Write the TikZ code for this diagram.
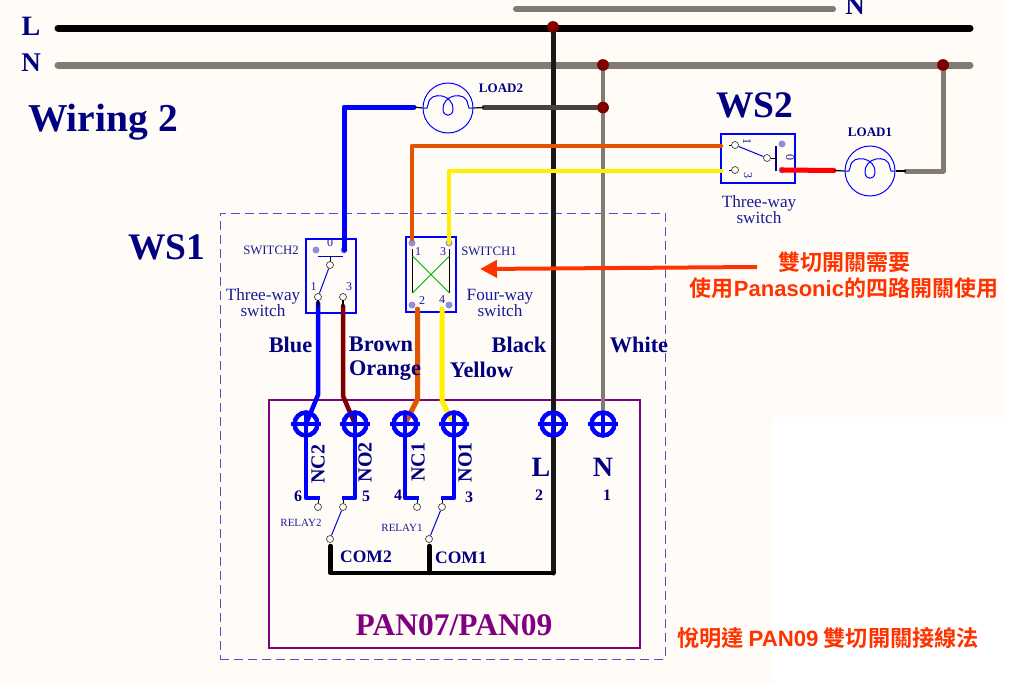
\documentclass[tikz,border=0pt]{standalone}
\usepackage{fontspec}
\setmainfont{Liberation Serif}
\newfontfamily\cjkbold{Noto Sans CJK TC Bold}
\newfontfamily\arialb{Liberation Sans Bold}
\usetikzlibrary{arrows.meta,calc}
\definecolor{cream}{HTML}{FFFCF8}
\definecolor{navy}{HTML}{000080}
\definecolor{labelblue}{HTML}{1A1A96}
\definecolor{elecblue}{HTML}{0000FF}
\definecolor{busgray}{HTML}{837A74}
\definecolor{darkgray}{HTML}{4A4040}
\definecolor{juncred}{HTML}{7F0000}
\definecolor{orangew}{HTML}{E25500}
\definecolor{yellw}{HTML}{FFF000}
\definecolor{brownw}{HTML}{7F0000}
\definecolor{dotblue}{HTML}{8E8EE0}
\definecolor{redtext}{HTML}{FF3300}
\definecolor{purp}{HTML}{800080}
\definecolor{dashblue}{HTML}{5050D0}
\tikzset{
 x=1pt,y=-1pt,
 txt/.style={inner sep=0pt,outer sep=0pt,text=navy,font=\fontsize{#1}{#1}\selectfont\bfseries},
 thin label/.style={inner sep=0pt,outer sep=0pt,text=labelblue,align=center,font=\fontsize{#1}{#1}\selectfont},
 wire/.style={line width=#1,line cap=round,line join=round},
 box/.style={draw=elecblue,line width=1.4pt,inner sep=0pt,outer sep=0pt,fill=none},
 junc/.style={circle,fill=juncred,draw=none,minimum size=11.5pt,inner sep=0pt},
 cdot/.style={circle,fill=dotblue,draw=none,minimum size=7pt,inner sep=0pt},
 ring/.style={circle,fill=cream,draw=black!75,line width=.7pt,minimum size=7pt,inner sep=0pt},
 term/.style={circle,draw=elecblue,line width=4.2pt,minimum size=23pt,inner sep=0pt},
 arm/.style={draw=elecblue!85!black,line width=1pt},
 lead/.style={draw=black,line width=1.2pt},
 lampc/.style={circle,draw=elecblue,line width=1pt,minimum size=50pt,inner sep=0pt},
 fil/.style={draw=elecblue,line width=1pt},
 redtxt/.style={inner sep=0pt,text=redtext,font=\fontsize{#1}{#1}\selectfont\cjkbold}
}
\newcommand{\filament}[1]{%
 \draw[fil] ($(#1)+(-25,0)$) -- ($(#1)+(-21,0)$) -- ($(#1)+(-20,-3)$) .. controls ($(#1)+(-19,-12)$) and ($(#1)+(-12,-13)$) .. ($(#1)+(-6,-12)$)
   .. controls ($(#1)+(0,-11)$) and ($(#1)+(6,-5)$) .. ($(#1)+(5,2)$) .. controls ($(#1)+(4,9)$) and ($(#1)+(-4,9)$) .. ($(#1)+(-5,2)$)
   .. controls ($(#1)+(-6,-5)$) and ($(#1)+(0,-11)$) .. ($(#1)+(6,-12)$) .. controls ($(#1)+(12,-13)$) and ($(#1)+(19,-12)$) .. ($(#1)+(20,-3)$) -- ($(#1)+(21,0)$) -- ($(#1)+(25,0)$);}
\newcommand{\termcross}[1]{%
 \draw[elecblue,line width=3.2pt] ($(#1)+(-15,0)$) -- ($(#1)+(15,0)$);
 \draw[elecblue,line width=3.2pt] ($(#1)+(0,-13)$) -- ($(#1)+(0,13)$);}
\begin{document}
\begin{tikzpicture}
\useasboundingbox (0,0) rectangle (1024,688);
\fill[white] (0,0) rectangle (1024,688);
\fill[cream] (0,0) -- (1005,0) -- (1005,416) -- (773,416) -- (773,683) -- (0,683) -- cycle;

\coordinate (LL) at (58,28); \coordinate (LR) at (970,28);
\coordinate (NL) at (58,65); \coordinate (NR) at (970,65);
\coordinate (TL) at (516,9); \coordinate (TR) at (833,9);

\node[draw=dashblue,dash pattern=on 9pt off 5pt,line width=.8pt,minimum width=445pt,minimum height=446pt,inner sep=0pt] (ws1frame) at (442.5,436) {};
\node[draw=purp,line width=1.3pt,minimum width=371pt,minimum height=248pt,inner sep=0pt] (relaybox) at (454.5,524) {};

\draw[wire=6pt,busgray] (TL) -- (TR);
\draw[wire=7pt,busgray] (NL) -- (NR);
\draw[wire=7pt,black] (LL) -- (LR);

\node[junc] (jL) at (553,27) {};
\node[junc] (jN1) at (603,65) {};
\node[junc] (jN2) at (603,107.5) {};
\node[junc] (jN3) at (943,65) {};
\node[term] (tNC2) at (306,424) {};
\node[term] (tNO2) at (355,424) {};
\node[term] (tNC1) at (405,424) {};
\node[term] (tNO1) at (454,424) {};
\node[term] (tL) at (553,424) {};
\node[term] (tN) at (603,424) {};

\node[lampc] (load2) at (448,108) {};
\node[lampc] (load1) at (870,171) {};

\node[box,minimum width=50pt,minimum height=74pt] (sw2) at (331,276) {};
\node[box,minimum width=50pt,minimum height=75pt] (sw1) at (431,274.5) {};
\node[box,minimum width=74pt,minimum height=49pt] (ws2) at (758,158.5) {};
\node[cdot] (s2a) at (316,250) {};
\node[cdot] (s2b) at (344,250) {};
\node[cdot] (s1a) at (412,243) {};
\node[cdot] (s1b) at (449,243) {};
\node[cdot] (s1c) at (412,305) {};
\node[cdot] (s1d) at (449,305) {};
\node[cdot] (w2a) at (782,144) {};
\node[cdot] (w2b) at (782,170) {};

\draw[wire=5pt,black!90] (jL.center) -- (553,573) coordinate (gnd);
\draw[wire=4.5pt,busgray] (jN1.center) -- (tN.center);
\draw[wire=5pt,darkgray] (484,107.5) coordinate (d2) -- (jN2.center);
\draw[wire=5pt,busgray] (906,171) coordinate (g1) -- (943,171) -- (jN3.center);
\draw[wire=5pt,elecblue] (s2b.center) -- (344,107) -- (414,107) coordinate (b2);
\draw[wire=4.5pt,orangew] (s1a.north) -- (412,146) -- (721,146) coordinate (o2);
\draw[wire=4.5pt,yellw] (s1b.center) -- (449,171) -- (721,171) coordinate (y2);
\draw[wire=5pt,red] (w2b.center) -- (834,170.5) coordinate (r2);
\draw[lead] (b2) -- (load2.west);
\draw[lead] (load2.east) -- (d2);
\draw[lead] (r2) -- (load1.west);
\draw[lead] (load1.east) -- (g1);
\filament{load2}
\filament{load1}
\foreach \j in {jL,jN1,jN2,jN3}{\node[junc] at (\j) {};}

\node[ring] (r2c1) at (318,297) {};
\node[ring] (r2c3) at (343,297) {};
\draw[wire=4.5pt,elecblue] (318,303) coordinate (bw1) -- (318,395) -- (tNC2.center);
\draw[wire=4.5pt,brownw] (343,306) coordinate (bw2) -- (343,396) -- (tNO2.center);
\draw[wire=5pt,orangew] (417.5,309) -- (417.5,399) -- (tNC1.center);
\draw[wire=5pt,yellw] (442,309) -- (442,401) -- (tNO1.center);

\foreach \t in {tNC2,tNO2,tNC1,tNO1,tL,tN}{\node[term] at (\t) {};\termcross{\t}}
\draw[wire=4.8pt,elecblue,line cap=butt] (tNC2.center) -- (306,498) -- (320,498);
\draw[wire=4.8pt,elecblue,line cap=butt] (tNO2.center) -- (355,498) -- (342,498);
\draw[wire=4.8pt,elecblue,line cap=butt] (tNC1.center) -- (405,498) -- (419,498);
\draw[wire=4.8pt,elecblue,line cap=butt] (tNO1.center) -- (454,498) -- (441,498);

\draw[elecblue!70!navy,line width=1.3pt] (318,256.5) -- (343,256.5);
\draw[black,line width=1pt] (330,256.5) -- (330,262);
\node[ring] (s2p) at (330,265) {};
\draw[arm] (s2p) -- (r2c1);
\draw[black,line width=1.3pt] (318,300) -- (318,307);
\draw[black,line width=1.3pt] (343,300) -- (343,307);

\draw[black,line width=1.3pt] (412.5,249) -- (412.5,293);
\draw[black,line width=1.3pt] (449.5,249) -- (449.5,293);
\draw[green!70!black,line width=1pt] (412.5,256) -- (449.5,293);
\draw[green!70!black,line width=1pt] (449.5,256) -- (412.5,293);

\node[ring] (w2c1) at (735,145) {};
\node[ring] (w2c3) at (735,170) {};
\node[ring] (w2p) at (767,158) {};
\draw[arm] (w2c1) -- (w2p);
\draw[black,line width=1pt] (w2p) -- (776,158);
\draw[navy,line width=1.3pt] (776,146) -- (776,171);
\draw[black,line width=1pt] (w2c1) -- (729,145);
\draw[black,line width=1pt] (w2c3) -- (729,170);

\node[ring] (ra1) at (318,507) {};
\node[ring] (ra2) at (343,507) {};
\node[ring] (ra3) at (330,539) {};
\node[ring] (rb1) at (417,507) {};
\node[ring] (rb2) at (442,507) {};
\node[ring] (rb3) at (429,539) {};
\draw[arm] (ra2) -- (ra3);
\draw[arm] (rb2) -- (rb3);
\draw[black,line width=1pt] (ra1) -- (318,500);
\draw[black,line width=1pt] (ra2) -- (343,500);
\draw[black,line width=1pt] (rb1) -- (417,500);
\draw[black,line width=1pt] (rb2) -- (442,500);
\draw[wire=4.5pt,black] (330.5,546) -- (330.5,573) -- (gnd);
\draw[wire=4.5pt,black] (429.5,546) -- (429.5,573);

\node[txt=28] (tLb) at (31,26) {L};
\node[txt=27] (tNb) at (31,63) {N};
\node[txt=27] (tNtop) at (855,6) {N};
\node[txt=39.5] (wir) at (103,122) {Wiring 2};
\node[txt=37.5] (ws1) at (167,247) {WS1};
\node[txt=37.5] (ws2t) at (755,105) {WS2};

\node[txt=13] (lo2) at (501,88) {LOAD2};
\node[txt=13] (lo1) at (870,132) {LOAD1};

\node[thin label=12] (n0a) at (330,243) {0};
\node[thin label=12] (n1a) at (313.5,287) {1};
\node[thin label=12] (n3a) at (349,287) {3};
\node[thin label=12] (n1b) at (418,252) {1};
\node[thin label=12] (n3b) at (443,252) {3};
\node[thin label=12] (n2b) at (422,301) {2};
\node[thin label=12] (n4b) at (442,300) {4};
\node[thin label=12,rotate=-90] (n1c) at (747,141) {1};
\node[thin label=12,rotate=-90] (n3c) at (748,175) {3};
\node[thin label=12,rotate=-90] (n0c) at (790,157) {0};
\node[thin label=12.8] (sws2) at (271,250) {SWITCH2};
\node[thin label=12.8] (sws1) at (489,251) {SWITCH1};
\node[thin label=17.2] (tw2) at (263,302.5) {Three-way\\[-.05em]switch};
\node[thin label=17.2] (fw1) at (500,303) {Four-way\\[-.05em]switch};
\node[thin label=17.2] (twc) at (759,209.5) {Three-way\\[-.05em]switch};

\node[txt=22.3] (cB) at (290.5,344.5) {Blue};
\node[txt=22.3] (cBr) at (381,344.5) {Brown};
\node[txt=22.3] (cO) at (385,371) {Orange};
\node[txt=22.3] (cY) at (481.5,370) {Yellow};
\node[txt=22.3] (cK) at (519,344.5) {Black};
\node[txt=22.3] (cW) at (639,344.5) {White};

\node[txt=20,rotate=90] (lNC2) at (318,464) {NC2};
\node[txt=20,rotate=90] (lNO2) at (365,462) {NO2};
\node[txt=20,rotate=90] (lNC1) at (418,462) {NC1};
\node[txt=20,rotate=90] (lNO1) at (465,462) {NO1};
\node[txt=16] (p6) at (298,496) {6};
\node[txt=16] (p5) at (366,496) {5};
\node[txt=16] (p4) at (398,495) {4};
\node[txt=16] (p3) at (469,497) {3};
\node[txt=16] (p2) at (539,495) {2};
\node[txt=16] (p1) at (607,495) {1};
\node[txt=28] (bL) at (541,467) {L};
\node[txt=28] (bN) at (603,467) {N};
\node[txt=17.5] (c2) at (366,557) {COM2};
\node[txt=17.5] (c1) at (461,558) {COM1};
\node[thin label=11] (rl2) at (301,523) {RELAY2};
\node[thin label=11] (rl1) at (402,528) {RELAY1};
\node[txt=31.5,text=purp] (pan) at (454,625) {PAN07/PAN09};

\node[redtxt=22] (note1) at (844,262) {雙切開關需要};
\node[redtxt=22] (note2) at (844,288) {使用{\arialb Panasonic}的四路開關使用};
\node[redtxt=22.2] (title) at (828,638) {悅明達 {\arialb PAN09} 雙切開關接線法};
\coordinate (aS) at (757,267); \coordinate (aE) at (480,269);
\draw[redtext,line width=4pt,-{Triangle[length=17pt,width=17pt]}] (aS) -- (aE);
\end{tikzpicture}
\end{document}
